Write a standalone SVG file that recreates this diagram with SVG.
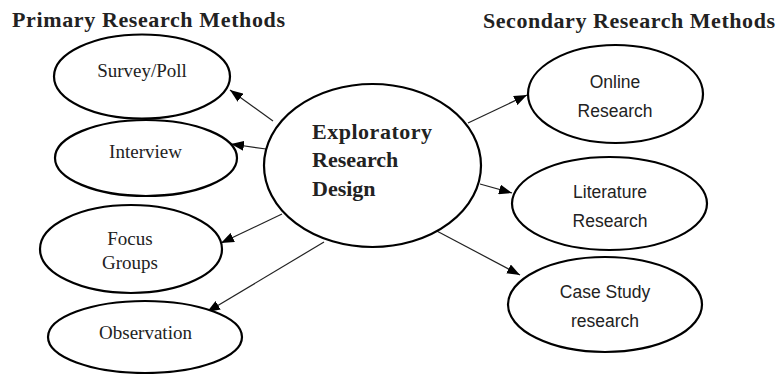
<svg xmlns="http://www.w3.org/2000/svg" width="779" height="374" viewBox="0 0 779 374">
<defs>
<style>
.node{fill:#fff;stroke:#000;stroke-width:2.2}
.title{font-family:"Liberation Serif","Times New Roman",serif;font-weight:bold;font-size:22px;fill:#222}
.serif{font-family:"Liberation Serif","Times New Roman",serif;font-size:19px;fill:#222;text-anchor:middle}
.sans{font-family:"Liberation Sans",Arial,sans-serif;font-size:17.5px;fill:#222;text-anchor:middle}
.center{font-family:"Liberation Serif","Times New Roman",serif;font-weight:bold;font-size:22px;fill:#222}
.edge{stroke:#222;stroke-width:1.2;fill:none;marker-end:url(#arrow)}
</style>
<marker id="arrow" markerUnits="userSpaceOnUse" markerWidth="14" markerHeight="10" refX="13" refY="5" orient="auto">
<path d="M0,0 L13,5 L0,10 Z" fill="#000"/>
</marker>
</defs>
<rect width="779" height="374" fill="#fff"/>
<text class="title" x="12" y="27" textLength="273" lengthAdjust="spacing">Primary Research Methods</text>
<text class="title" x="483" y="28" textLength="292" lengthAdjust="spacing">Secondary Research Methods</text>
<g id="connectors">
<line class="edge" x1="273" y1="121" x2="230" y2="90"/>
<line class="edge" x1="266" y1="149" x2="231" y2="144"/>
<line class="edge" x1="282" y1="214" x2="221" y2="243"/>
<line class="edge" x1="324" y1="242" x2="207" y2="312"/>
<line class="edge" x1="468" y1="123" x2="527" y2="95"/>
<line class="edge" x1="480" y1="184" x2="512" y2="193"/>
<line class="edge" x1="433" y1="229" x2="520" y2="275"/>
</g>
<g id="survey">
<ellipse class="node" cx="142" cy="76.5" rx="88" ry="42"/>
<text class="serif" x="142" y="77">Survey/Poll</text>
</g>
<g id="interview">
<ellipse class="node" cx="146" cy="158" rx="91" ry="38"/>
<text class="serif" x="145.5" y="158">Interview</text>
</g>
<g id="focus">
<ellipse class="node" cx="131" cy="249" rx="91" ry="44"/>
<text class="serif" x="130" y="245">Focus</text>
<text class="serif" x="130" y="269">Groups</text>
</g>
<g id="observation">
<ellipse class="node" cx="145" cy="337" rx="97" ry="36"/>
<text class="serif" x="145.5" y="339">Observation</text>
</g>
<g id="exploratory">
<ellipse class="node" cx="372.5" cy="165.5" rx="108.5" ry="81.5"/>
<text class="center" x="312" y="139" textLength="120" lengthAdjust="spacing">Exploratory</text>
<text class="center" x="312" y="167">Research</text>
<text class="center" x="312" y="196">Design</text>
</g>
<g id="online">
<ellipse class="node" cx="615.5" cy="94" rx="87.5" ry="49"/>
<text class="sans" x="615" y="88">Online</text>
<text class="sans" x="615" y="117">Research</text>
</g>
<g id="literature">
<ellipse class="node" cx="609.5" cy="203.5" rx="97.5" ry="46.5"/>
<text class="sans" x="610" y="198">Literature</text>
<text class="sans" x="610" y="227">Research</text>
</g>
<g id="casestudy">
<ellipse class="node" cx="605" cy="304.5" rx="97" ry="47.5"/>
<text class="sans" x="605" y="298">Case Study</text>
<text class="sans" x="605" y="327">research</text>
</g>
</svg>
